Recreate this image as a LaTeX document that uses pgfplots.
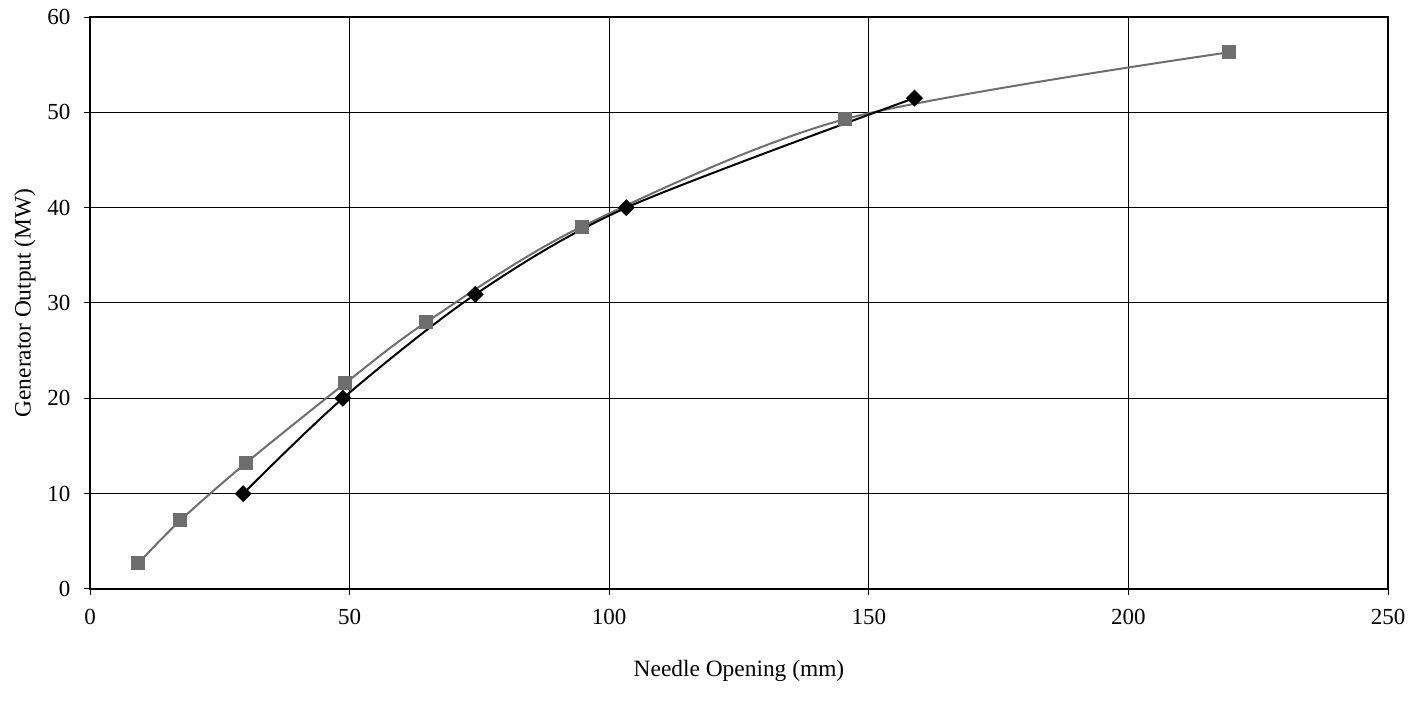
\documentclass[border=0pt]{standalone}
\usepackage{pgfplots}
\pgfplotsset{compat=1.18}
\usepackage{fontspec}
\setmainfont{Liberation Serif}
\definecolor{sergray}{RGB}{110,110,110}
\begin{document}
\fontsize{11pt}{13pt}\selectfont
\begin{tikzpicture}
\useasboundingbox (-45pt,-60.25pt) rectangle (661.5pt,294.5pt);
\begin{axis}[
  scale only axis,
  width=649pt, height=286pt,
  anchor=south west, at={(0,0)},
  xmin=0, xmax=250, ymin=0, ymax=60,
  xtick={0,50,...,250}, ytick={0,10,...,60},
  grid=major,
  major grid style={black, line width=0.5pt},
  axis line style={black, line width=1pt},
  tick align=outside, major tick length=3pt,
  tick style={black, line width=0.5pt},
  xtick pos=bottom, ytick pos=left,
  /pgf/number format/assume math mode=true,
  tick label style={font=\fontsize{11.5pt}{13pt}\selectfont},
  xticklabel style={yshift=-3pt},
  yticklabel style={xshift=-3pt},
  xlabel={Needle Opening (mm)},
  ylabel={Generator Output (MW)},
  every axis x label/.style={at={(axis description cs:0.5,0)}, anchor=center, yshift=-41pt, font=\fontsize{11.7pt}{14pt}\selectfont},
  every axis y label/.style={at={(axis description cs:0,0.5)}, anchor=center, xshift=-32.5pt, rotate=90, font=\fontsize{11.7pt}{14pt}\selectfont},
]
\addplot[sergray, line width=1pt, smooth, tension=0.5, mark=square*, mark size=3pt, mark options={fill=sergray, draw=sergray, solid}]
  coordinates {(9.3,2.7) (17.4,7.2) (30.0,13.2) (49.2,21.6) (64.8,28.0) (94.7,38.0) (145.5,49.3) (219.4,56.3)};
\addplot[black, line width=1pt, smooth, tension=0.5, mark=square*, mark size=2.5pt, mark options={fill=black, draw=black, solid, rotate=45}]
  coordinates {(29.5,10.0) (48.7,20.0) (74.2,30.9) (103.3,40.0) (158.8,51.5)};
\end{axis}
\end{tikzpicture}
\end{document}
